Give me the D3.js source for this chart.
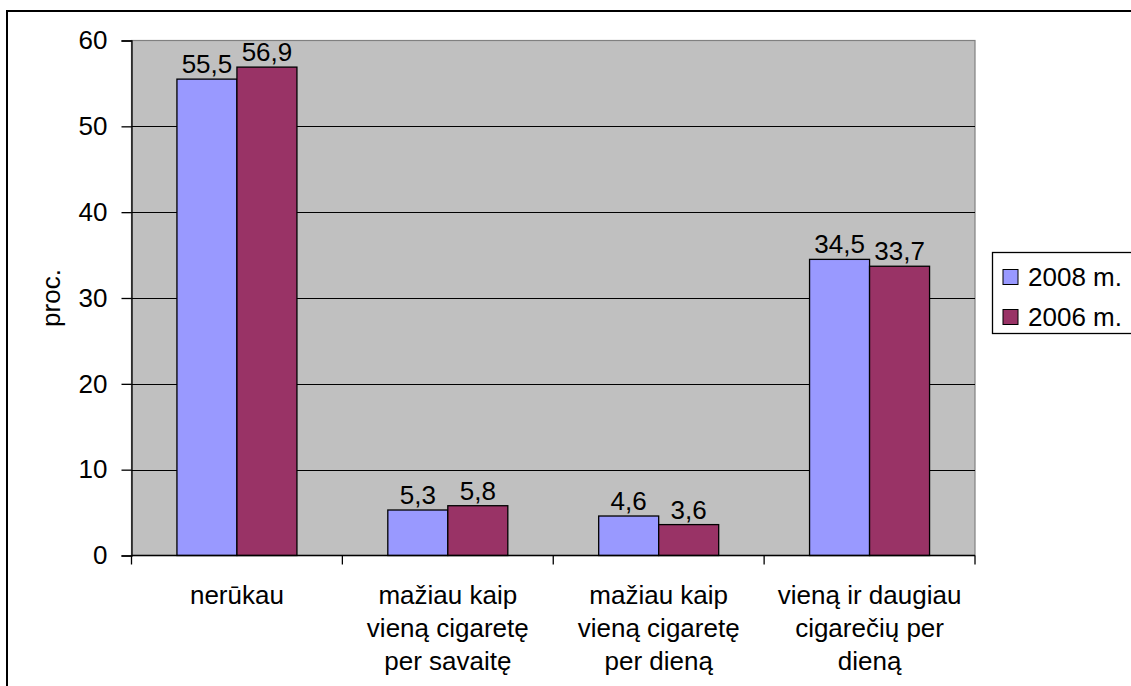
<!DOCTYPE html>
<html>
<head>
<meta charset="utf-8">
<script src="https://cdn.jsdelivr.net/npm/d3@7"></script>
<style>
  body { margin: 0; background: #fff; }
  svg { display: block; font-family: "Liberation Sans", Arial, sans-serif; }
</style>
</head>
<body>
<svg id="chart" width="1131" height="686"></svg>
<script>
// data
const categories = [
    ["nerūkau"],
    ["mažiau kaip", "vieną cigaretę", "per savaitę"],
    ["mažiau kaip", "vieną cigaretę", "per dieną"],
    ["vieną ir daugiau", "cigarečių per", "dieną"]
];
const seriesNames = ["2008 m.", "2006 m."];
const values2008 = [55.5, 5.3, 4.6, 34.5];
const values2006 = [56.9, 5.8, 3.6, 33.7];
const yTicks = [0, 10, 20, 30, 40, 50, 60];

const colors = { "2008 m.": "#9999ff", "2006 m.": "#993366" };
const fontSize = 26;

const svg = d3.select("#chart");

// outer chart border (runs off the right and bottom of the picture)
svg.append("rect")
    .attr("x", 7).attr("y", 11)
    .attr("width", 1140).attr("height", 700)
    .attr("fill", "#fff")
    .attr("stroke", "#000")
    .attr("stroke-width", 2);

const plot = { left: 131.5, right: 975, top: 40.5, bottom: 555.5 };

const x = d3.scaleBand()
    .domain(d3.range(categories.length))
    .range([plot.left, plot.right])
    .padding(0);

const barW = 60;
const x1 = d3.scaleBand()
    .domain(seriesNames)
    .range([x.bandwidth() / 2 - barW, x.bandwidth() / 2 + barW]);

const y = d3.scaleLinear()
    .domain([0, 60])
    .range([plot.bottom, plot.top]);

// plot area
svg.append("rect")
    .attr("x", plot.left).attr("y", plot.top)
    .attr("width", plot.right - plot.left)
    .attr("height", plot.bottom - plot.top)
    .attr("fill", "#c0c0c0")
    .attr("stroke", "#808080")
    .attr("stroke-width", 1.2);

// gridlines
svg.append("g")
    .selectAll("line")
    .data(yTicks.filter(d => d > 0 && d < 60))
    .join("line")
    .attr("x1", plot.left).attr("x2", plot.right)
    .attr("y1", d => Math.round(y(d)) + 0.5)
    .attr("y2", d => Math.round(y(d)) + 0.5)
    .attr("stroke", "#000")
    .attr("stroke-width", 1.2);

// bars
const rows = [];
categories.forEach((c, i) => {
    rows.push({ i: i, s: "2008 m.", v: values2008[i] });
    rows.push({ i: i, s: "2006 m.", v: values2006[i] });
});

svg.append("g")
    .selectAll("rect")
    .data(rows)
    .join("rect")
    .attr("x", d => x(d.i) + x1(d.s))
    .attr("y", d => y(d.v))
    .attr("width", x1.bandwidth())
    .attr("height", d => y(0) - y(d.v))
    .attr("fill", d => colors[d.s])
    .attr("stroke", "#000")
    .attr("stroke-width", 1.3);

// data labels
const fmt = d => d3.format(".1f")(d).replace(".", ",");
svg.append("g")
    .selectAll("text")
    .data(rows)
    .join("text")
    .attr("x", d => x(d.i) + x1(d.s) + x1.bandwidth() / 2)
    .attr("y", d => y(d.v) - 6)
    .attr("text-anchor", "middle")
    .attr("font-size", fontSize)
    .attr("fill", "#000")
    .text(d => fmt(d.v));

// y axis
const yAxis = d3.axisLeft(y)
    .tickValues(yTicks)
    .tickSize(10)
    .tickPadding(14)
    .tickFormat(d3.format("d"));

const yg = svg.append("g")
    .attr("transform", "translate(" + plot.left + ",0)")
    .call(yAxis);
yg.selectAll("line, path").attr("stroke", "#000").attr("stroke-width", 1.3);
yg.selectAll("text")
    .attr("font-size", fontSize)
    .attr("font-family", "Liberation Sans, Arial, sans-serif")
    .attr("fill", "#000");

// x axis
const xg = svg.append("g")
    .attr("transform", "translate(0," + plot.bottom + ")");
xg.append("line")
    .attr("x1", plot.left).attr("x2", plot.right)
    .attr("stroke", "#000").attr("stroke-width", 1.3);
xg.selectAll(".tick")
    .data(d3.range(categories.length + 1))
    .join("line")
    .attr("class", "tick")
    .attr("x1", d => d < categories.length ? x(d) : plot.right)
    .attr("x2", d => d < categories.length ? x(d) : plot.right)
    .attr("y1", 0).attr("y2", 9)
    .attr("stroke", "#000").attr("stroke-width", 1.3);

const catLabels = svg.append("g")
    .selectAll("text")
    .data(categories)
    .join("text")
    .attr("text-anchor", "middle")
    .attr("font-size", fontSize)
    .attr("fill", "#000");
catLabels.selectAll("tspan")
    .data((d, i) => d.map(line => ({ line: line, i: i })))
    .join("tspan")
    .attr("x", d => x(d.i) + x.bandwidth() / 2)
    .attr("y", (d, j) => 604 + j * 33)
    .text(d => d.line);

// y axis title
svg.append("text")
    .attr("transform", "translate(60," + (plot.top + plot.bottom) / 2 + ") rotate(-90)")
    .attr("text-anchor", "middle")
    .attr("font-size", fontSize)
    .text("proc.");

// legend
const legend = svg.append("g");
legend.append("rect")
    .attr("x", 992.5).attr("y", 252.5)
    .attr("width", 160).attr("height", 81)
    .attr("fill", "#fff")
    .attr("stroke", "#000")
    .attr("stroke-width", 1.3);

const items = legend.selectAll("g.item")
    .data(seriesNames)
    .join("g")
    .attr("class", "item")
    .attr("transform", (d, i) => "translate(1003," + (269.5 + i * 40) + ")");
items.append("rect")
    .attr("width", 15).attr("height", 15)
    .attr("fill", d => colors[d])
    .attr("stroke", "#000")
    .attr("stroke-width", 1);
items.append("text")
    .attr("x", 25).attr("y", 16)
    .attr("font-size", fontSize)
    .text(d => d);
</script>
</body>
</html>
